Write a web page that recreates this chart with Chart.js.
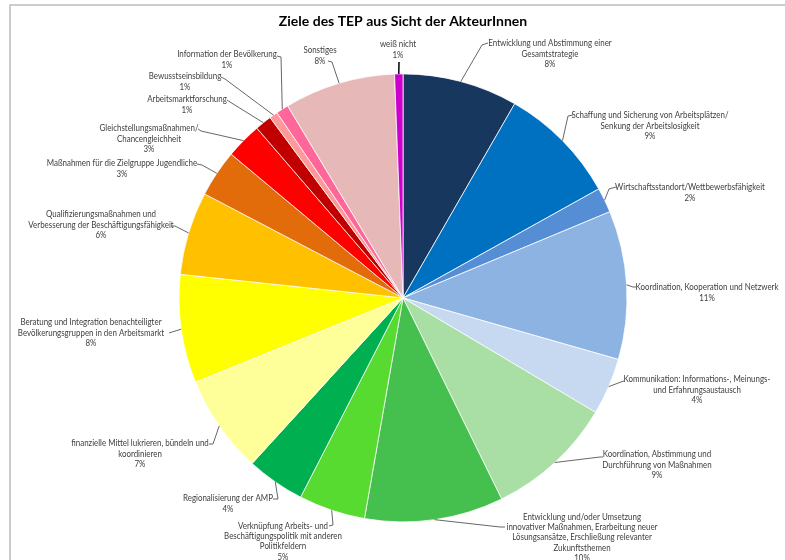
<!DOCTYPE html>
<html>
<head>
<meta charset="utf-8">
<script src="https://cdn.jsdelivr.net/npm/chart.js@4/dist/chart.umd.min.js"></script>
<style>
    html, body { margin: 0; padding: 0; background: #ffffff; }
    #wrap { position: relative; width: 785px; height: 560px; }
</style>
</head>
<body>
<div id="wrap"><canvas id="goalsChart" width="785" height="560"></canvas></div>
<script>
var categories = [
    'Entwicklung und Abstimmung einer\nGesamtstrategie',
    'Schaffung und Sicherung von Arbeitsplätzen/\nSenkung der Arbeitslosigkeit',
    'Wirtschaftsstandort/Wettbewerbsfähigkeit',
    'Koordination, Kooperation und Netzwerk',
    'Kommunikation: Informations-, Meinungs-\nund Erfahrungsaustausch',
    'Koordination, Abstimmung und\nDurchführung von Maßnahmen',
    'Entwicklung und/oder Umsetzung\ninnovativer Maßnahmen, Erarbeitung neuer\nLösungsansätze, Erschließung relevanter\nZukunftsthemen',
    'Verknüpfung Arbeits- und\nBeschäftigungspolitik mit anderen\nPolitikfeldern',
    'Regionalisierung der AMP',
    'finanzielle Mittel lukrieren, bündeln und\nkoordinieren',
    'Beratung und Integration benachteiligter\nBevölkerungsgruppen in den Arbeitsmarkt',
    'Qualifizierungsmaßnahmen und\nVerbesserung der Beschäftigungsfähigkeit',
    'Maßnahmen für die Zielgruppe Jugendliche',
    'Gleichstellungsmaßnahmen/\nChancengleichheit',
    'Arbeitsmarktforschung',
    'Bewusstseinsbildung',
    'Information der Bevölkerung',
    'Sonstiges',
    'weiß nicht'
];

// share of answers in percent
var shares = [8.3, 8.6, 1.8, 10.7, 4.1, 9.2, 10.0, 4.8, 4.2, 7.1, 7.8, 6.0, 3.4, 2.6, 1.2, 0.6, 0.9, 8.0, 0.6];

var sliceColors = [
    '#17375E', '#0070C0', '#558ED5', '#8DB3E2', '#C6D9F1',
    '#A9DFA5', '#45BF4E', '#57DB31', '#00B050', '#FFFF99',
    '#FFFF00', '#FFC000', '#E26B0A', '#FF0000', '#C00000',
    '#FF9999', '#FF6699', '#E6B9B8', '#CC00CC'
];

// label placement: text centre x, first line y, then the leader path after the arc point
var labelLayout = [
    { x: 550, y: 43, path: [[482, 45], [488, 43]] },
    { x: 650, y: 115, path: [[568, 116], [573, 115]] },
    { x: 690, y: 187, path: [[609, 189], [616, 187]] },
    { x: 707, y: 287, path: [[633, 287], [636, 287]] },
    { x: 697, y: 379, path: [[621, 382], [624, 381]] },
    { x: 657, y: 454, path: [[600, 457], [603, 457]] },
    { x: 582, y: 517, path: [[500, 527], [505, 527]] },
    { x: 283, y: 526, path: [[333, 525], [329, 526]] },
    { x: 228, y: 498, path: [[278, 499], [273, 499]] },
    { x: 140, y: 443, path: [[213, 444], [209, 444]] },
    { x: 91, y: 322, path: [[172, 332], [169, 333]] },
    { x: 101, y: 214, path: [[175, 226], [171, 226]] },
    { x: 122, y: 163, path: [[202, 165], [197, 164]] },
    { x: 149, y: 128, path: [[201, 131], [198, 129]] },
    { x: 187, y: 99, path: [[230, 102], [227, 100]] },
    { x: 185, y: 76, path: [[225, 79], [221, 77]] },
    { x: 227, y: 54, path: [[281, 57], [277, 56]] },
    { x: 320, y: 50, path: [[332, 62], [328, 61]] },
    { x: 398, y: 44, path: [[399, 62]] }
];

var total = shares.reduce(function (a, b) { return a + b; }, 0);

function pctText(value) {
    return Math.round(value / total * 100) + '%';
}

var framePlugin = {
    id: 'frame',
    beforeDraw: function (chart) {
        var ctx = chart.ctx;
        ctx.save();
        ctx.strokeStyle = '#bcbcbc';
        ctx.lineWidth = 1.5;
        ctx.beginPath();
        ctx.moveTo(785, 5);
        ctx.lineTo(10, 5);
        ctx.lineTo(10, 560);
        ctx.stroke();
        ctx.restore();
    }
};

var outsideLabels = {
    id: 'outsideLabels',
    afterDraw: function (chart) {
        var ctx = chart.ctx;
        var arcs = chart.getDatasetMeta(0).data;
        ctx.save();
        ctx.font = '9px Lato';
        ctx.fillStyle = '#404040';
        ctx.textAlign = 'center';
        ctx.textBaseline = 'middle';
        arcs.forEach(function (arc, i) {
            var p = arc.getProps(['x', 'y', 'startAngle', 'endAngle', 'outerRadius'], true);
            var mid = (p.startAngle + p.endAngle) / 2;
            var sx = p.x + Math.cos(mid) * p.outerRadius;
            var sy = p.y + Math.sin(mid) * p.outerRadius;
            var lay = labelLayout[i];

            ctx.strokeStyle = i === 18 ? '#000000' : '#404040';
            ctx.lineWidth = i === 18 ? 1.5 : 0.8;
            ctx.beginPath();
            ctx.moveTo(sx, sy);
            lay.path.forEach(function (pt) { ctx.lineTo(pt[0], pt[1]); });
            ctx.stroke();

            var lines = categories[i].split('\n').concat([pctText(shares[i])]);
            var lh = lines.length > 3 ? 10.2 : 10.6;
            lines.forEach(function (line, k) {
                // Calibri-like narrow text: squeeze horizontally
                ctx.save();
                ctx.translate(lay.x, lay.y + k * lh);
                ctx.scale(0.88, 1);
                ctx.fillText(line, 0, 0);
                ctx.restore();
            });
        });
        ctx.restore();
    }
};

new Chart(document.getElementById('goalsChart').getContext('2d'), {
    type: 'pie',
    data: {
        labels: categories,
        datasets: [{
            data: shares,
            backgroundColor: sliceColors,
            borderColor: '#ffffff',
            borderWidth: 0.75
        }]
    },
    options: {
        responsive: false,
        animation: false,
        radius: 224,
        layout: { padding: { left: 21, right: 0, top: 0, bottom: 38 } },
        plugins: {
            legend: { display: false },
            tooltip: { enabled: false },
            title: {
                display: true,
                text: 'Ziele des TEP aus Sicht der AkteurInnen',
                color: '#000000',
                font: { family: 'Lato', size: 14, weight: 'bold', lineHeight: 1.2 },
                padding: { top: 13, bottom: 44 }
            }
        }
    },
    plugins: [framePlugin, outsideLabels]
});
</script>
</body>
</html>
